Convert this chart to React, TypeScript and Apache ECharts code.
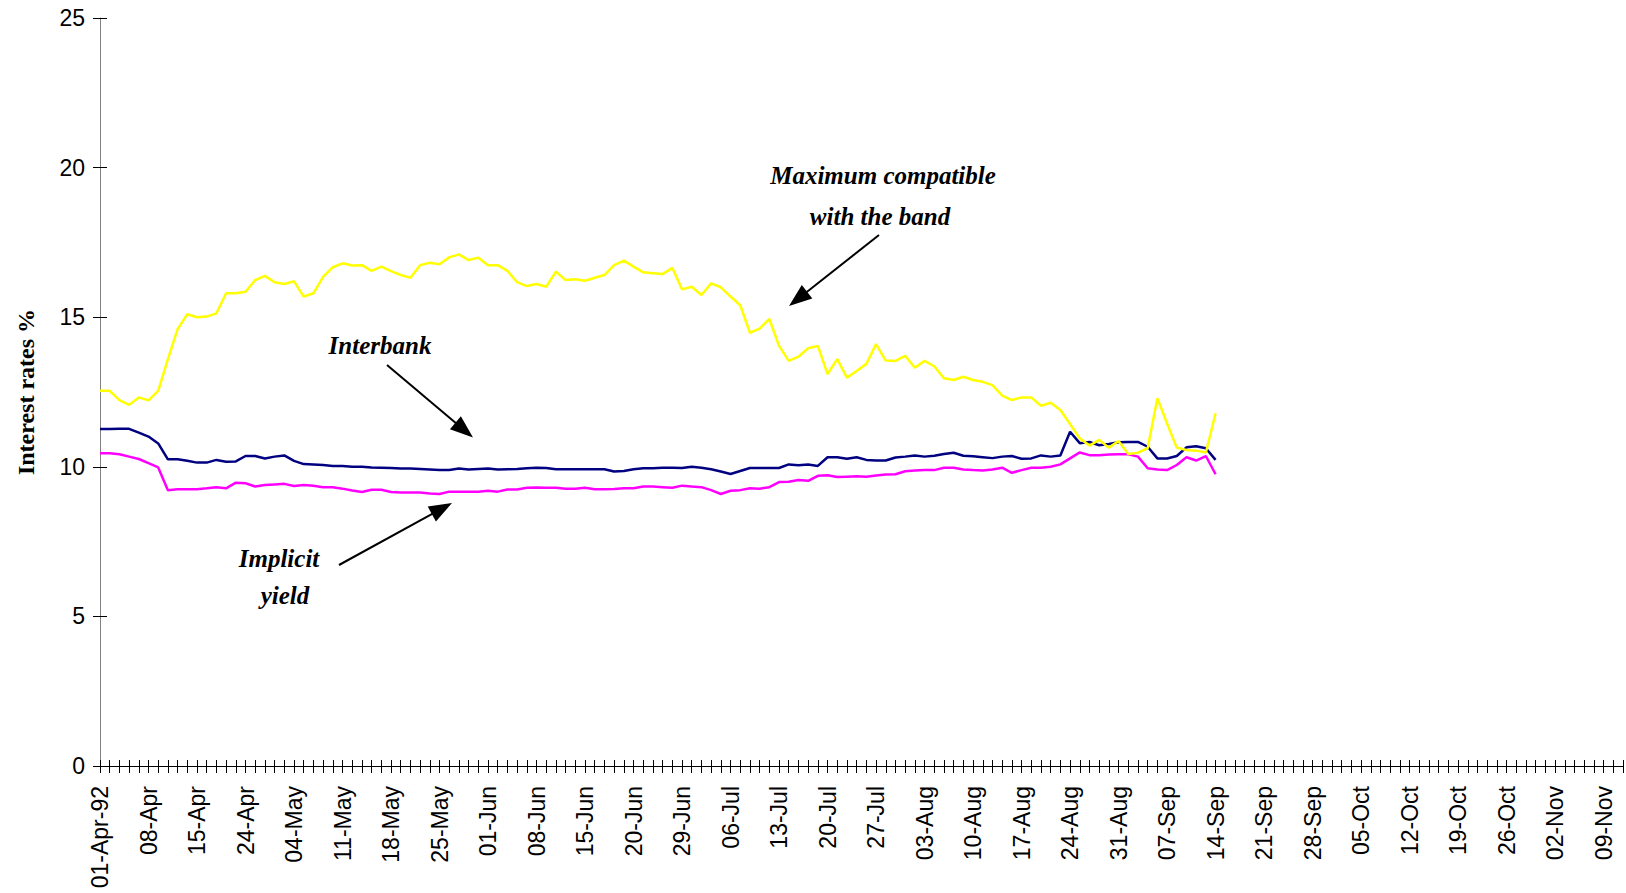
import React, { useEffect, useRef } from "react";
import * as echarts from "echarts";

const dates = [
  "01-Apr-92","02-Apr","03-Apr","06-Apr","07-Apr","08-Apr","09-Apr","10-Apr","13-Apr","14-Apr",
  "15-Apr","16-Apr","21-Apr","22-Apr","23-Apr","24-Apr","27-Apr","28-Apr","29-Apr","30-Apr",
  "04-May","05-May","06-May","07-May","08-May","11-May","12-May","13-May","14-May","15-May",
  "18-May","19-May","20-May","21-May","22-May","25-May","26-May","27-May","28-May","29-May",
  "01-Jun","02-Jun","03-Jun","04-Jun","05-Jun","08-Jun","09-Jun","10-Jun","11-Jun","12-Jun",
  "15-Jun","16-Jun","17-Jun","18-Jun","19-Jun","20-Jun","22-Jun","23-Jun","24-Jun","25-Jun",
  "29-Jun","30-Jun","01-Jul","02-Jul","03-Jul","06-Jul","07-Jul","08-Jul","09-Jul","10-Jul",
  "13-Jul","14-Jul","15-Jul","16-Jul","17-Jul","20-Jul","21-Jul","22-Jul","23-Jul","24-Jul",
  "27-Jul","28-Jul","29-Jul","30-Jul","31-Jul","03-Aug","04-Aug","05-Aug","06-Aug","07-Aug",
  "10-Aug","11-Aug","12-Aug","13-Aug","14-Aug","17-Aug","18-Aug","19-Aug","20-Aug","21-Aug",
  "24-Aug","25-Aug","26-Aug","27-Aug","28-Aug","31-Aug","01-Sep","02-Sep","03-Sep","04-Sep",
  "07-Sep","08-Sep","09-Sep","10-Sep","11-Sep","14-Sep","15-Sep","16-Sep","17-Sep","18-Sep",
  "21-Sep","22-Sep","23-Sep","24-Sep","25-Sep","28-Sep","29-Sep","30-Sep","01-Oct","02-Oct",
  "05-Oct","06-Oct","07-Oct","08-Oct","09-Oct","12-Oct","13-Oct","14-Oct","15-Oct","16-Oct",
  "19-Oct","20-Oct","21-Oct","22-Oct","23-Oct","26-Oct","27-Oct","28-Oct","29-Oct","30-Oct",
  "02-Nov","03-Nov","04-Nov","05-Nov","06-Nov","09-Nov","10-Nov","11-Nov",
];

const maxCompatible = [
  12.54, 12.54, 12.23, 12.07, 12.32, 12.22, 12.54, 13.6, 14.6, 15.1,
  15.0, 15.02, 15.13, 15.8, 15.8, 15.85, 16.24, 16.38, 16.17, 16.11,
  16.2, 15.69, 15.8, 16.35, 16.67, 16.8, 16.73, 16.74, 16.55, 16.69,
  16.54, 16.41, 16.32, 16.74, 16.82, 16.77, 17.0, 17.1, 16.91, 16.99,
  16.74, 16.74, 16.55, 16.17, 16.04, 16.11, 16.02, 16.52, 16.24, 16.27,
  16.22, 16.32, 16.41, 16.74, 16.89, 16.69, 16.5, 16.47, 16.44, 16.65,
  15.93, 16.02, 15.74, 16.13, 16.0, 15.69, 15.4, 14.48, 14.62, 14.94,
  14.04, 13.54, 13.68, 13.96, 14.04, 13.1, 13.6, 12.98, 13.2, 13.44,
  14.1, 13.55, 13.54, 13.71, 13.31, 13.54, 13.36, 12.96, 12.9, 13.01,
  12.9, 12.84, 12.73, 12.38, 12.23, 12.32, 12.32, 12.04, 12.14, 11.9,
  11.43, 10.95, 10.71, 10.9, 10.64, 10.86, 10.43, 10.47, 10.62, 12.29,
  11.45, 10.64, 10.56, 10.54, 10.48, 11.79,
];

const interbank = [
  11.26, 11.26, 11.27, 11.27, 11.14, 11.01, 10.78, 10.25, 10.25, 10.2,
  10.14, 10.14, 10.23, 10.17, 10.18, 10.36, 10.36, 10.28, 10.34, 10.38,
  10.2, 10.09, 10.08, 10.06, 10.03, 10.03, 10.0, 10.0, 9.98, 9.97,
  9.96, 9.94, 9.94, 9.93, 9.91, 9.89, 9.89, 9.94, 9.91, 9.93,
  9.94, 9.91, 9.92, 9.93, 9.95, 9.97, 9.96, 9.92, 9.92, 9.92,
  9.92, 9.92, 9.92, 9.84, 9.86, 9.92, 9.95, 9.95, 9.97, 9.97,
  9.96, 10.0, 9.97, 9.92, 9.84, 9.76, 9.86, 9.96, 9.96, 9.96,
  9.96, 10.08, 10.05, 10.08, 10.03, 10.32, 10.32, 10.27, 10.32, 10.23,
  10.21, 10.21, 10.31, 10.34, 10.38, 10.34, 10.37, 10.43, 10.47, 10.37,
  10.35, 10.32, 10.29, 10.34, 10.36, 10.27, 10.28, 10.38, 10.34, 10.38,
  11.17, 10.79, 10.83, 10.72, 10.76, 10.82, 10.83, 10.83, 10.67, 10.28,
  10.28, 10.36, 10.65, 10.69, 10.62, 10.23,
];

const implicitYield = [
  10.45, 10.45, 10.42, 10.34, 10.26, 10.12, 9.98, 9.22, 9.25, 9.25,
  9.25, 9.28, 9.32, 9.28, 9.47, 9.45, 9.34, 9.39, 9.41, 9.43,
  9.36, 9.39, 9.37, 9.32, 9.32, 9.27, 9.21, 9.16, 9.23, 9.23,
  9.16, 9.14, 9.14, 9.14, 9.11, 9.09, 9.17, 9.17, 9.17, 9.17,
  9.2, 9.17, 9.24, 9.24, 9.3, 9.31, 9.3, 9.3, 9.27, 9.27,
  9.3, 9.25, 9.25, 9.26, 9.28, 9.28, 9.34, 9.34, 9.32, 9.3,
  9.37, 9.34, 9.32, 9.22, 9.09, 9.2, 9.22, 9.28, 9.27, 9.32,
  9.49, 9.5, 9.56, 9.53, 9.7, 9.72, 9.66, 9.67, 9.68, 9.67,
  9.71, 9.74, 9.75, 9.85, 9.88, 9.89, 9.89, 9.97, 9.97, 9.91,
  9.89, 9.88, 9.91, 9.97, 9.8, 9.89, 9.97, 9.97, 10.0, 10.08,
  10.28, 10.48, 10.39, 10.39, 10.41, 10.42, 10.42, 10.34, 9.95, 9.91,
  9.89, 10.06, 10.32, 10.21, 10.36, 9.75,
];

const yTicks = { min: 0, max: 25, interval: 5 };
const yAxisTitle = "Interest rates %";

const SANS = '"Liberation Sans", Arial, sans-serif';
const SERIF = '"Liberation Serif", "Times New Roman", serif';

function arrow(x1: number, y1: number, x2: number, y2: number) {
  const dx = x2 - x1;
  const dy = y2 - y1;
  const len = Math.sqrt(dx * dx + dy * dy);
  const ux = dx / len;
  const uy = dy / len;
  const hl = 23;
  const hw = 8.5;
  const bx = x2 - ux * hl;
  const by = y2 - uy * hl;
  return [
    {
      type: "line",
      shape: { x1, y1, x2: bx + ux * 2, y2: by + uy * 2 },
      style: { stroke: "#000", lineWidth: 2 },
      silent: true,
    },
    {
      type: "polygon",
      shape: {
        points: [
          [x2, y2],
          [bx - uy * hw, by + ux * hw],
          [bx + uy * hw, by - ux * hw],
        ],
      },
      style: { fill: "#000" },
      silent: true,
    },
  ];
}

function label(text: string, x: number, y: number) {
  return {
    type: "text",
    x,
    y,
    silent: true,
    style: {
      text,
      fill: "#000",
      fontFamily: SERIF,
      fontSize: 25,
      fontWeight: "bold",
      fontStyle: "italic",
      align: "center",
      verticalAlign: "middle",
    },
  };
}

export default function App() {
  const ref = useRef<HTMLDivElement>(null);

  useEffect(() => {
    if (!ref.current) return;
    const chart = echarts.init(ref.current, null, { renderer: "svg" });
    const option: any = {
      animation: false,
      backgroundColor: "#fff",
      grid: { left: 100, right: 3, top: 18, bottom: 127, containLabel: false },
      xAxis: [
        {
          type: "category",
          data: dates,
          boundaryGap: false,
          position: "bottom",
          axisLine: { show: true, lineStyle: { color: "#000", width: 1 } },
          axisTick: { show: true, interval: 0, length: 7, lineStyle: { color: "#000" } },
          axisLabel: {
            interval: 4,
            rotate: 90,
            fontSize: 23,
            fontFamily: SANS,
            color: "#000",
            margin: 20,
          },
          splitLine: { show: false },
        },
        {
          type: "category",
          data: dates,
          boundaryGap: false,
          position: "bottom",
          axisLine: { show: false },
          axisTick: { show: true, inside: true, interval: 0, length: 6, lineStyle: { color: "#000" } },
          axisLabel: { show: false },
          splitLine: { show: false },
        },
      ],
      yAxis: [
        {
          type: "value",
          min: yTicks.min,
          max: yTicks.max,
          interval: yTicks.interval,
          position: "left",
          axisLine: { show: true, lineStyle: { color: "#808080", width: 1 } },
          axisTick: { show: true, length: 7, lineStyle: { color: "#000" } },
          axisLabel: { fontSize: 23, fontFamily: SANS, color: "#000", margin: 15 },
          splitLine: { show: false },
          name: yAxisTitle,
          nameLocation: "middle",
          nameGap: 62,
          nameTextStyle: {
            fontFamily: SERIF,
            fontSize: 24,
            fontWeight: "bold",
            color: "#000",
          },
        },
        {
          type: "value",
          min: yTicks.min,
          max: yTicks.max,
          interval: yTicks.interval,
          position: "left",
          axisLine: { show: false },
          axisTick: { show: true, inside: true, length: 7, lineStyle: { color: "#000" } },
          axisLabel: { show: false },
          splitLine: { show: false },
        },
      ],
      series: [
        {
          name: "Implicit yield",
          type: "line",
          data: implicitYield,
          symbol: "none",
          lineStyle: { color: "#FF00FF", width: 2.5 },
          itemStyle: { color: "#FF00FF" },
        },
        {
          name: "Interbank",
          type: "line",
          data: interbank,
          symbol: "none",
          lineStyle: { color: "#000080", width: 2.5 },
          itemStyle: { color: "#000080" },
        },
        {
          name: "Maximum compatible with the band",
          type: "line",
          data: maxCompatible,
          symbol: "none",
          lineStyle: { color: "#FFFF00", width: 2.5 },
          itemStyle: { color: "#FFFF00" },
        },
      ],
      graphic: [
        label("Maximum compatible", 883, 175),
        label("with the band", 880, 216),
        label("Interbank", 380, 345),
        label("Implicit", 279, 558),
        label("yield", 285, 595),
        ...arrow(879, 235, 789, 306),
        ...arrow(387, 365, 473, 437.5),
        ...arrow(339, 565, 452, 503),
      ],
    };
    chart.setOption(option);
    return () => {
      chart.dispose();
    };
  }, []);

  return (
    <div
      ref={ref}
      style={{ position: "absolute", left: 0, top: 0, width: 1626, height: 893 }}
    />
  );
}
